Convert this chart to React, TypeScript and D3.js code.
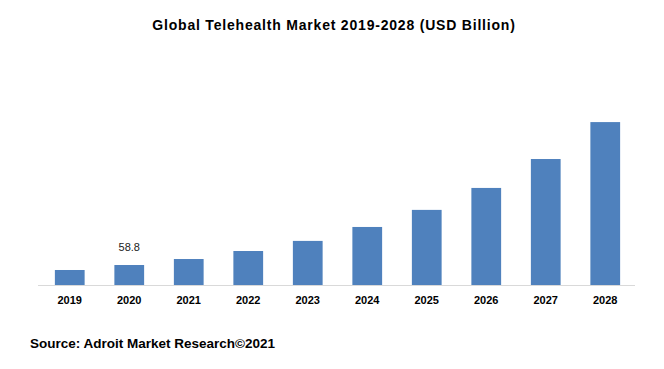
import { useEffect, useRef } from 'react';
import * as d3 from 'd3';

const years = ['2019', '2020', '2021', '2022', '2023', '2024', '2025', '2026', '2027', '2028'];
const values = [44.5, 58.8, 76, 99, 128, 168, 217, 280, 363, 469];
const labelledYears = ['2020'];

const W = 664;
const H = 369;

export default function App() {
  const svgRef = useRef<SVGSVGElement>(null);

  useEffect(() => {
    if (!svgRef.current) return;
    const svg = d3.select(svgRef.current);
    svg.selectAll('*').remove();

    const font = '"Liberation Sans", Arial, sans-serif';
    const base = 285.5;

    const x = d3.scaleBand<string>()
      .domain(years)
      .range([40, 635])
      .paddingInner(0.5)
      .paddingOuter(0.25);

    const y = d3.scaleLinear()
      .domain([0, 500])
      .range([base, base - 500 / 2.87]);

    svg.append('rect').attr('width', W).attr('height', H).attr('fill', '#fff');

    // title, slightly spaced out like the original
    svg.append('text')
      .attr('x', 334)
      .attr('y', 30)
      .attr('text-anchor', 'middle')
      .attr('font-family', font)
      .attr('font-weight', 'bold')
      .attr('font-size', 14)
      .attr('letter-spacing', 0.8)
      .attr('fill', '#000')
      .text('Global Telehealth Market 2019-2028 (USD Billion)');

    svg.append('g')
      .selectAll('rect')
      .data(years)
      .join('rect')
      .attr('x', d => x(d)!)
      .attr('width', x.bandwidth())
      .attr('y', (d, i) => y(values[i]))
      .attr('height', (d, i) => base - y(values[i]))
      .attr('fill', '#4F81BD');

    svg.append('line')
      .attr('x1', 38)
      .attr('x2', 635)
      .attr('y1', base)
      .attr('y2', base)
      .attr('stroke', '#D9D9D9')
      .attr('stroke-width', 1);

    svg.append('g')
      .selectAll('text')
      .data(years)
      .join('text')
      .attr('x', d => x(d)! + x.bandwidth() / 2)
      .attr('y', 304)
      .attr('text-anchor', 'middle')
      .attr('font-family', font)
      .attr('font-weight', 'bold')
      .attr('font-size', 11)
      .attr('fill', '#000')
      .text(d => d);

    svg.append('g')
      .selectAll('text')
      .data(years.filter(d => labelledYears.includes(d)))
      .join('text')
      .attr('x', d => x(d)! + x.bandwidth() / 2)
      .attr('y', d => y(values[years.indexOf(d)]) - 14)
      .attr('text-anchor', 'middle')
      .attr('font-family', font)
      .attr('font-size', 11)
      .attr('fill', '#1a1a1a')
      .text(d => values[years.indexOf(d)].toString());

    svg.append('text')
      .attr('x', 30)
      .attr('y', 348)
      .attr('font-family', font)
      .attr('font-weight', 'bold')
      .attr('font-size', 13.5)
      .attr('fill', '#000')
      .text('Source: Adroit Market Research©2021');
  }, []);

  return (
    <svg
      ref={svgRef}
      width={W}
      height={H}
      style={{ position: 'absolute', left: 0, top: 0 }}
    />
  );
}
